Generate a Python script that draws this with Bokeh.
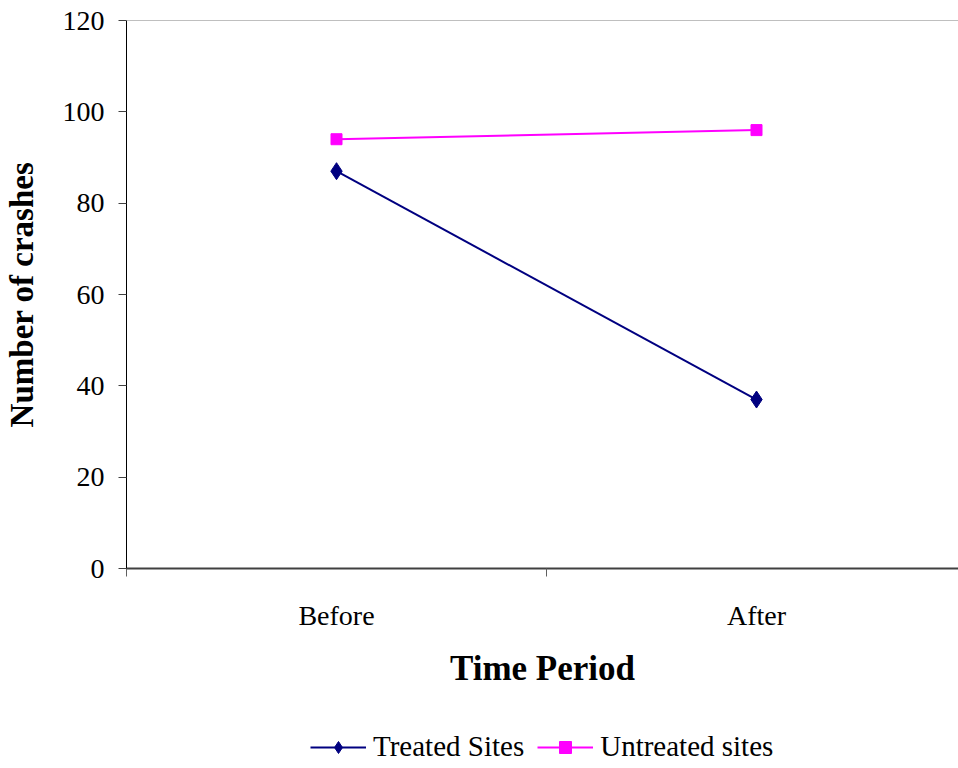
from bokeh.plotting import figure
from bokeh.models import Range1d, FixedTicker, Legend, LegendItem, Span
from bokeh.layouts import column
from bokeh.embed import file_html
from bokeh.resources import INLINE

periods = ["Before", "After"]
treated = [87, 37]
untreated = [94, 96]
y_ticks = [0, 20, 40, 60, 80, 100, 120]
series_names = ["Treated Sites", "Untreated sites"]

xpos = [i + 0.5 for i in range(len(periods))]

FONT = "Liberation Serif"
NAVY = "#000080"
MAGENTA = "#FF00FF"

p = figure(frame_width=832, frame_height=548,
           min_border_left=126, min_border_top=20, min_border_right=0,
           min_border_bottom=150,
           x_range=Range1d(0, (958 - 126) / 420), y_range=Range1d(0, 120),
           output_backend="svg", toolbar_location=None)
p.outline_line_color = None
p.grid.visible = False
p.background_fill_color = "white"
p.border_fill_color = "white"

xa = p.xaxis[0]
xa.ticker = FixedTicker(ticks=xpos, minor_ticks=[0, 1, 2])
xa.major_label_overrides = {x: lab for x, lab in zip(xpos, periods)}
xa.major_tick_out = 0
xa.major_tick_in = 0
xa.minor_tick_out = 8
xa.minor_tick_in = 0
xa.minor_tick_line_color = "#606060"
xa.axis_line_color = "#404040"
xa.axis_line_width = 2
xa.major_label_standoff = 23
xa.major_label_text_font = FONT
xa.major_label_text_font_size = "28px"
xa.major_label_text_color = "black"
xa.axis_label = "Time Period"
xa.axis_label_text_font = FONT
xa.axis_label_text_font_style = "bold"
xa.axis_label_text_font_size = "35px"
xa.axis_label_text_color = "black"
xa.axis_label_standoff = 15

ya = p.yaxis[0]
ya.ticker = FixedTicker(ticks=y_ticks, minor_ticks=[])
ya.major_tick_out = 8
ya.major_tick_in = 0
ya.major_tick_line_color = "#404040"
ya.axis_line_color = "black"
ya.major_label_standoff = 14
ya.major_label_text_font = FONT
ya.major_label_text_font_size = "28px"
ya.major_label_text_color = "black"
ya.axis_label = "Number of crashes"
ya.axis_label_text_font = FONT
ya.axis_label_text_font_style = "bold"
ya.axis_label_text_font_size = "33px"
ya.axis_label_text_color = "black"
ya.axis_label_standoff = 20

p.add_layout(Span(location=120, dimension="width", line_color="#808080", line_width=1))

p.line(xpos, treated, line_color=NAVY, line_width=2)
p.scatter(xpos, treated, marker="diamond", size=17, fill_color=NAVY, line_color=NAVY)
p.line(xpos, untreated, line_color=MAGENTA, line_width=2)
p.scatter(xpos, untreated, marker="square", size=11, fill_color=MAGENTA, line_color=MAGENTA)

# legend strip below the chart (glyphs drawn out of view, only legend shows)
p2 = figure(width=958, height=50, min_border=0,
            x_range=Range1d(100, 101), y_range=Range1d(1000, 1001),
            output_backend="svg", toolbar_location=None)
p2.axis.visible = False
p2.grid.visible = False
p2.outline_line_color = None
p2.background_fill_color = "white"
p2.border_fill_color = "white"

a1 = p2.line(xpos, treated, line_color=NAVY, line_width=2)
b1 = p2.scatter(xpos, treated, marker="diamond", size=17, fill_color=NAVY, line_color=NAVY)
a2 = p2.line(xpos, untreated, line_color=MAGENTA, line_width=2)
b2 = p2.scatter(xpos, untreated, marker="square", size=11, fill_color=MAGENTA, line_color=MAGENTA)

legend = Legend(items=[LegendItem(label=series_names[0], renderers=[a1, b1]),
                       LegendItem(label=series_names[1], renderers=[a2, b2])],
                orientation="horizontal", location=(184, 5),
                label_text_font=FONT, label_text_font_size="29px",
                label_text_color="black",
                glyph_width=56, glyph_height=30, label_height=30,
                spacing=13, label_standoff=7,
                border_line_color=None, background_fill_alpha=0, margin=0,
                padding=0)
p2.add_layout(legend, "center")

layout = column(p, p2, spacing=0)
open("out.html", "w").write(file_html(layout, INLINE))
